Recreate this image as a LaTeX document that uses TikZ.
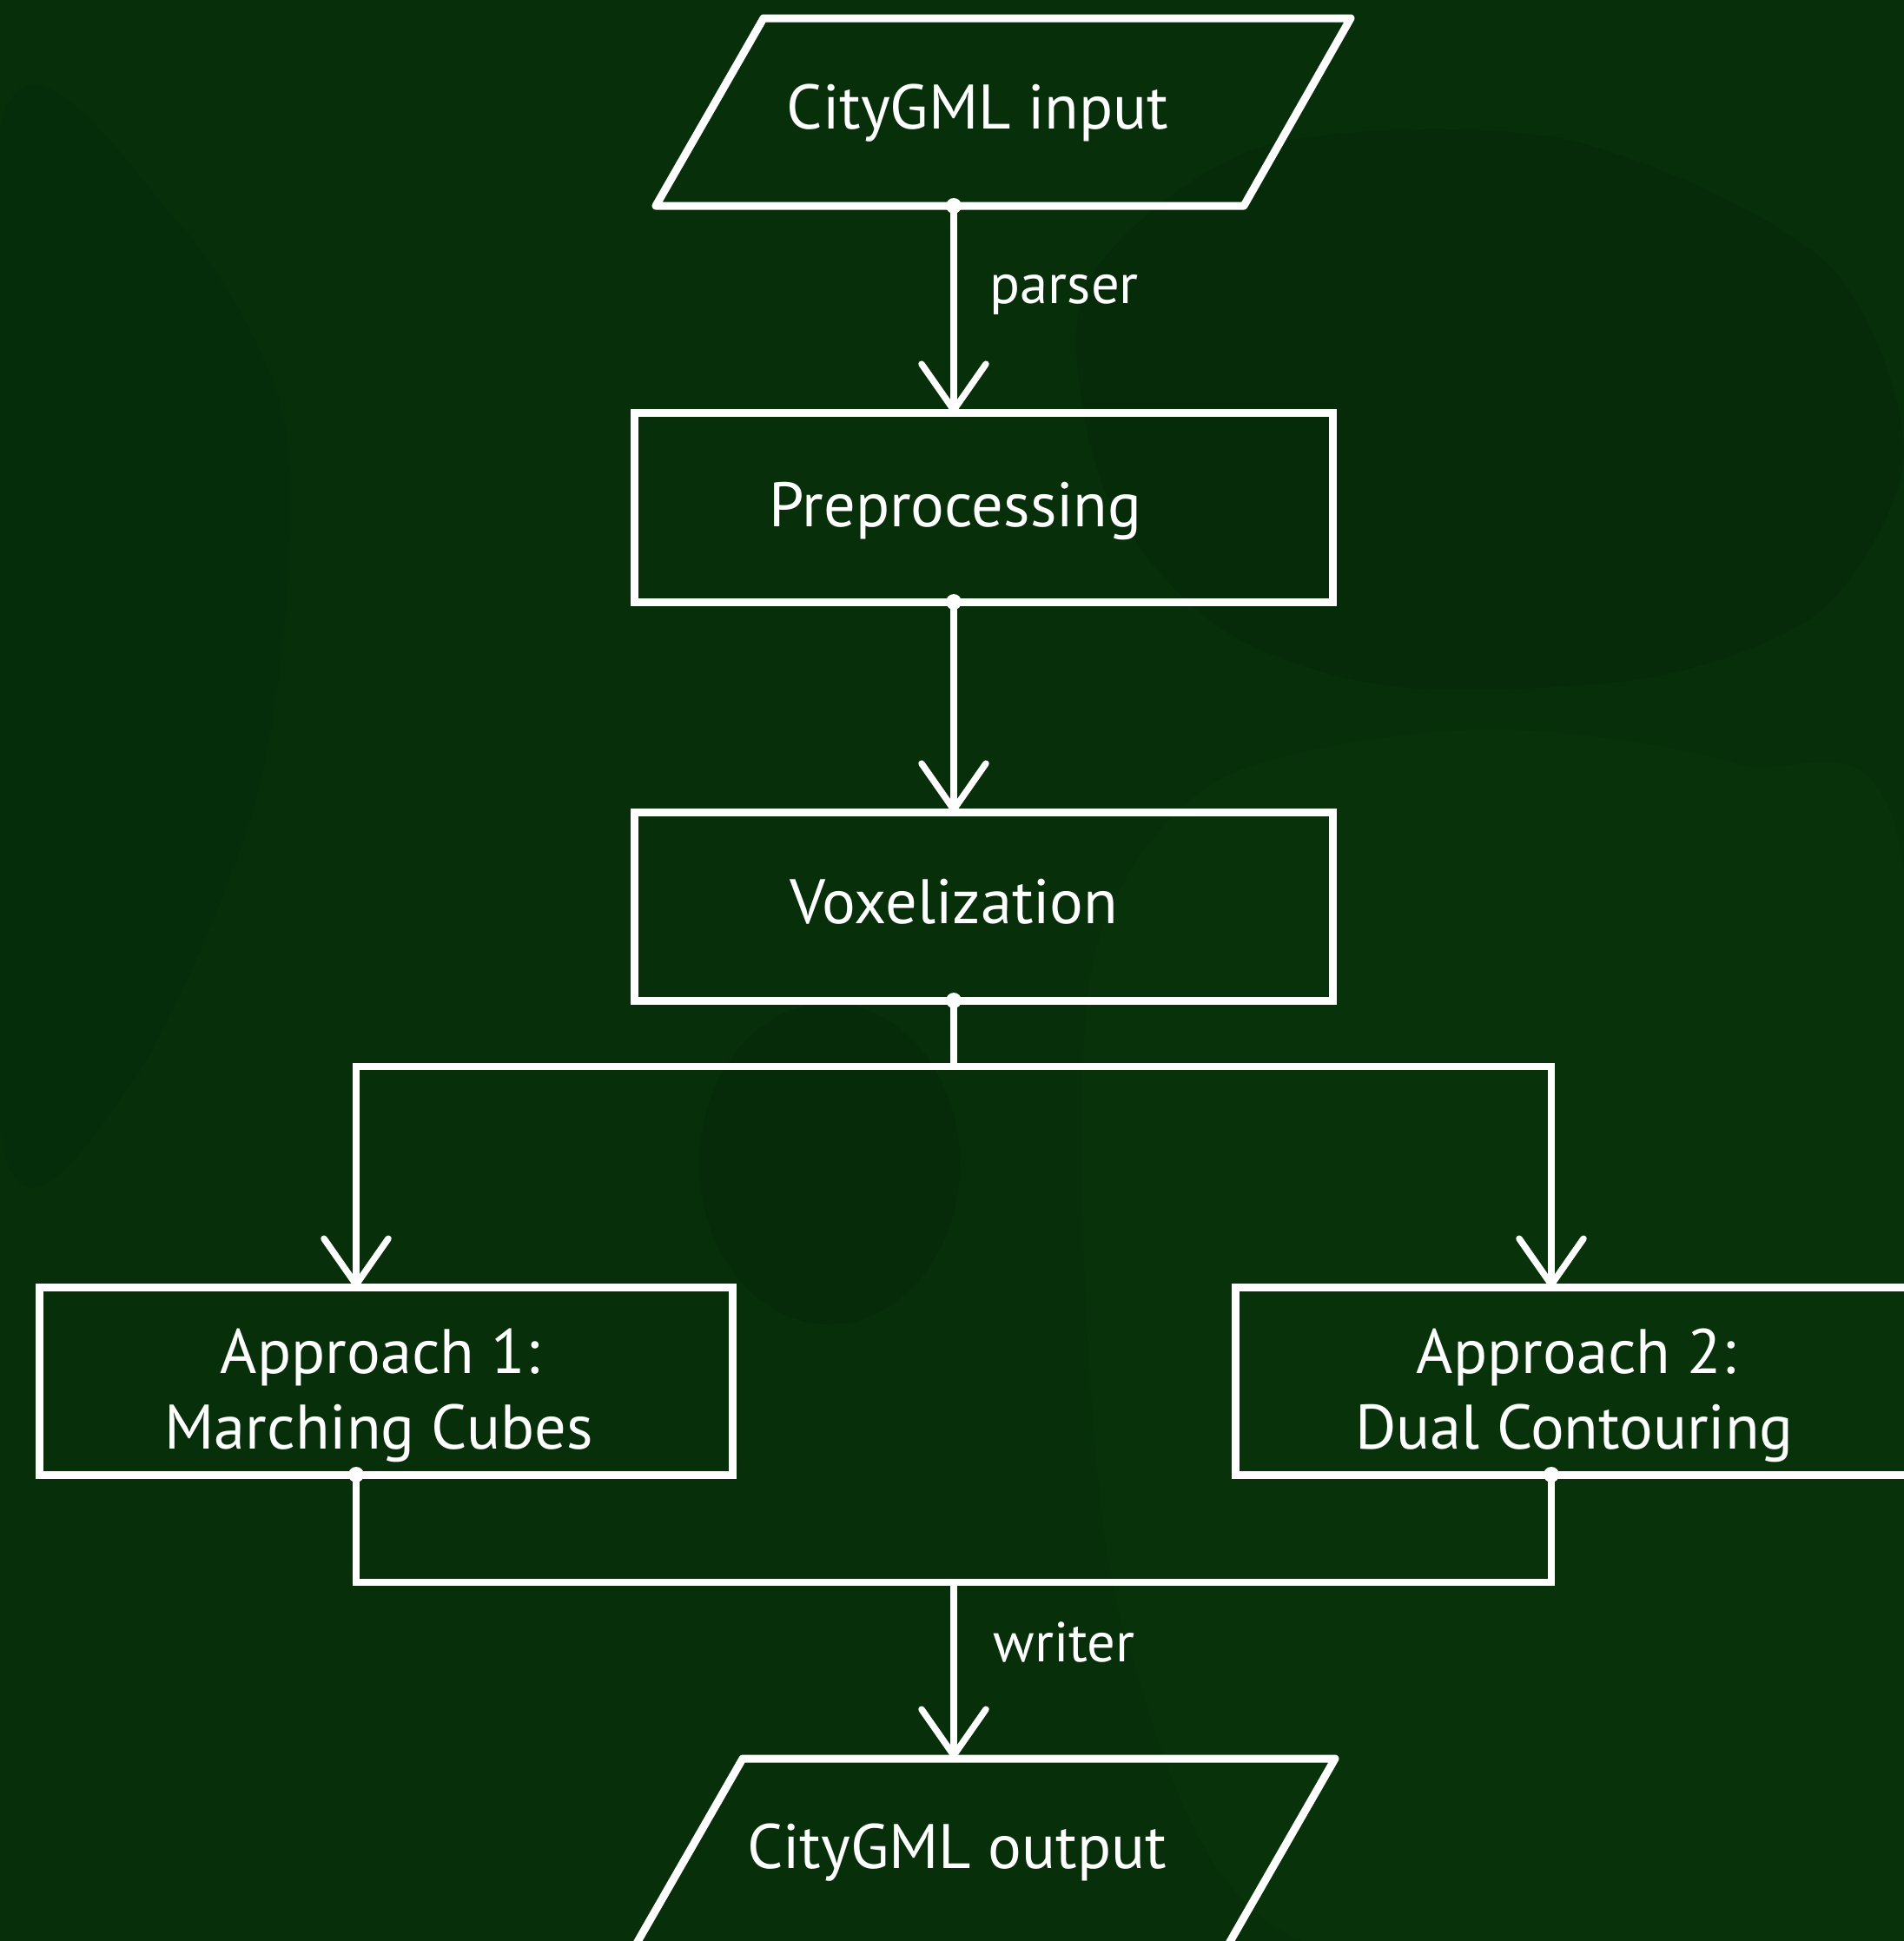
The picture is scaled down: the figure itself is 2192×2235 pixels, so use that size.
\documentclass[tikz,border=0pt]{standalone}
\usepackage{fontspec}
\setmainfont{PT Sans}
\usetikzlibrary{arrows.meta}
\definecolor{bgA}{RGB}{7,47,10}
\definecolor{bgDark}{RGB}{4,37,7}
\definecolor{bgLight}{RGB}{9,58,12}
\begin{document}
\begin{tikzpicture}[x=0.01cm,y=-0.01cm,
  box/.style={draw=white, line width=0.09cm, inner sep=0pt, outer sep=0pt},
  txt/.style={text=white, font=\fontsize{20.6}{24}\selectfont, inner sep=0pt, anchor=base},
  lbl/.style={text=white, font=\fontsize{18.4}{22}\selectfont, inner sep=0pt, anchor=base west},
  wire/.style={draw=white, line width=0.075cm},
  conn/.style={wire, -{Straight Barb[length=0.53cm, width=0.74cm, round]}},
  srcdot/.style={fill=white}]
\useasboundingbox (0,0) rectangle (2192,2235);
\clip (0,0) rectangle (2192,2235);
% background
\fill[bgA] (0,0) rectangle (2192,2235);
\fill[bgDark, opacity=0.3] plot[smooth cycle] coordinates {(1250,330) (1450,170) (1800,160) (2100,300) (2192,520) (2100,700) (1900,780) (1600,790) (1400,720) (1270,560)};
\fill[bgLight, opacity=0.35] plot[smooth cycle] coordinates {(1260,1100) (1400,900) (1700,840) (2000,880) (2192,1000) (2192,2235) (1500,2235) (1300,1900) (1250,1500)};
\fill[bgDark, opacity=0.3] (955,1340) ellipse (150 and 185);
\fill[bgDark, opacity=0.12] plot[smooth cycle] coordinates {(0,150) (200,250) (330,500) (300,900) (150,1250) (0,1300)};
% shapes
\draw[box, line join=round] (879,21) -- (1555,21) -- (1432,237) -- (755,237) -- cycle;
\node[txt] (inT) at (1125.5,148) {CityGML input};
\coordinate (inB) at (1098,237);
\node[box, minimum width=8.03cm, minimum height=2.17cm] (pre) at (1132.5,584.5) {};
\node[txt] (preT) at (1100,606) {Preprocessing};
\node[box, minimum width=8.03cm, minimum height=2.16cm] (vox) at (1132.5,1044) {};
\node[txt] (voxT) at (1098.5,1063) {Voxelization};
\node[box, minimum width=7.97cm, minimum height=2.15cm] (ap1) at (444.5,1590.5) {};
\node[txt] (ap1a) at (437.5,1581) {Approach 1:};
\node[txt] (ap1b) at (436,1668) {Marching Cubes};
\node[box, minimum width=7.97cm, minimum height=2.15cm] (ap2) at (1821.5,1590.5) {};
\node[txt] (ap2a) at (1814.5,1581) {Approach 2:};
\node[txt] (ap2b) at (1812.5,1668) {Dual Contouring};
\draw[box, line join=round] (855,2025) -- (1537,2025) -- (1413,2241) -- (731,2241) -- cycle;
\node[txt] (outT) at (1101.5,2151) {CityGML output};
\coordinate (outIn) at (1098,2025);
% connector points
\coordinate (split) at (1098,1228);
\coordinate (merge) at (1098,1822);
\coordinate (ap1in) at (410,1483);
\coordinate (ap2in) at (1786,1483);
\coordinate (ap1out) at (410,1698);
\coordinate (ap2out) at (1786,1698);
% connectors
\draw[conn] (inB) -- (inB |- pre.north);
\draw[conn] (inB |- pre.south) -- (inB |- vox.north);
\draw[wire] (inB |- vox.south) -- (split);
\draw[conn] (split) -| (ap1in);
\draw[conn] (split) -| (ap2in);
\draw[wire] (ap1out) |- (merge);
\draw[wire] (ap2out) |- (merge);
\draw[conn] (merge) -- (outIn);
% source dots
\fill[srcdot] (inB) circle[radius=0.09cm];
\fill[srcdot] (inB |- pre.south) circle[radius=0.09cm];
\fill[srcdot] (inB |- vox.south) circle[radius=0.09cm];
\fill[srcdot] (ap1out) circle[radius=0.09cm];
\fill[srcdot] (ap2out) circle[radius=0.09cm];
% labels
\node[lbl] (parser) at (1139,349) {parser};
\node[lbl] (writer) at (1143,1913) {writer};
\end{tikzpicture}
\end{document}
